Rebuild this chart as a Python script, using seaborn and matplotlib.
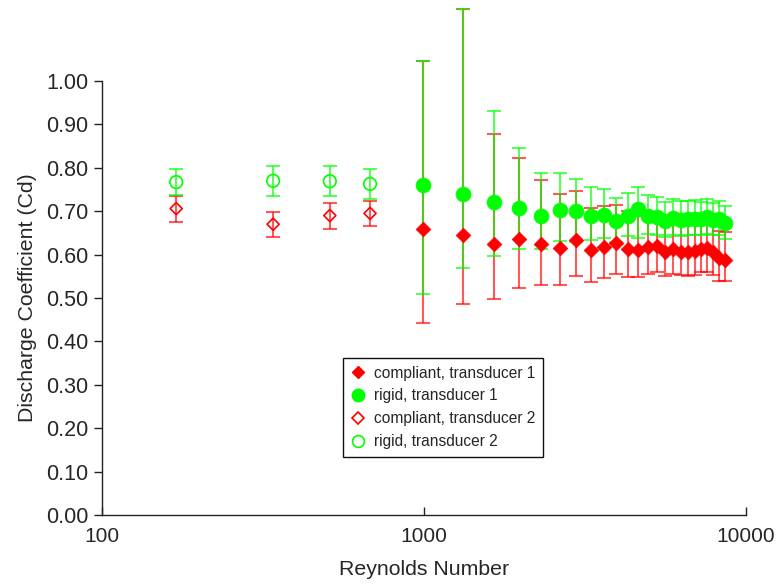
import matplotlib
matplotlib.use("Agg")
import matplotlib.pyplot as plt
from matplotlib.lines import Line2D
from matplotlib.ticker import FixedLocator, FixedFormatter, NullLocator, FormatStrFormatter
import numpy as np
import pandas as pd
import seaborn as sns

# Transducer 1 (filled markers)
re_t1 = [990, 1320, 1650, 1980, 2310, 2640, 2970, 3300, 3630, 3960, 4290, 4620,
         4950, 5280, 5610, 5940, 6270, 6600, 6930, 7260, 7590, 7920, 8250, 8580]

cd_compliant_t1 = [0.660, 0.645, 0.625, 0.637, 0.625, 0.616, 0.633, 0.610, 0.618, 0.627, 0.614, 0.610,
                   0.618, 0.620, 0.607, 0.614, 0.607, 0.605, 0.608, 0.613, 0.616, 0.605, 0.591, 0.588]
lo_compliant_t1 = [0.442, 0.485, 0.497, 0.524, 0.530, 0.530, 0.550, 0.536, 0.546, 0.556, 0.549, 0.549,
                   0.556, 0.559, 0.551, 0.556, 0.553, 0.551, 0.553, 0.559, 0.561, 0.553, 0.539, 0.539]
hi_compliant_t1 = [1.047, 1.165, 0.877, 0.823, 0.772, 0.739, 0.747, 0.708, 0.712, 0.715, 0.700, 0.689,
                   0.690, 0.690, 0.680, 0.685, 0.675, 0.675, 0.676, 0.680, 0.685, 0.670, 0.655, 0.652]

cd_rigid_t1 = [0.760, 0.740, 0.722, 0.708, 0.688, 0.702, 0.700, 0.690, 0.692, 0.678, 0.690, 0.705,
               0.690, 0.687, 0.677, 0.685, 0.680, 0.682, 0.683, 0.682, 0.686, 0.680, 0.682, 0.672]
lo_rigid_t1 = [0.510, 0.568, 0.597, 0.612, 0.612, 0.632, 0.630, 0.633, 0.639, 0.630, 0.643, 0.638,
               0.647, 0.645, 0.640, 0.645, 0.642, 0.645, 0.646, 0.646, 0.648, 0.645, 0.645, 0.636]
hi_rigid_t1 = [1.047, 1.165, 0.930, 0.845, 0.787, 0.789, 0.775, 0.755, 0.752, 0.731, 0.743, 0.756,
               0.738, 0.733, 0.722, 0.728, 0.724, 0.724, 0.726, 0.722, 0.728, 0.719, 0.724, 0.711]

# Transducer 2 (hollow markers)
re_t2 = [170, 340, 510, 680]
cd_compliant_t2 = [0.706, 0.670, 0.690, 0.695]
lo_compliant_t2 = [0.676, 0.641, 0.660, 0.666]
hi_compliant_t2 = [0.736, 0.699, 0.720, 0.724]
cd_rigid_t2 = [0.767, 0.770, 0.769, 0.763]
lo_rigid_t2 = [0.737, 0.735, 0.735, 0.728]
hi_rigid_t2 = [0.797, 0.805, 0.803, 0.798]

x_ticks = [100, 1000, 10000]
x_tick_labels = ["100", "1000", "10000"]
y_ticks = [0.0, 0.1, 0.2, 0.3, 0.4, 0.5, 0.6, 0.7, 0.8, 0.9, 1.0]

RED = "#ff0000"
GREEN = "#00ff00"

sns.set_style("ticks")
plt.rcParams["font.family"] = ["Liberation Sans", "DejaVu Sans"]

fig = plt.figure(figsize=(7.77, 5.84), dpi=100)
ax = fig.add_axes([0.1313, 0.1182, 0.8287, 0.7431])


def draw_bars(x, cd, lo, hi, color):
    cd = np.asarray(cd)
    yerr = [cd - np.asarray(lo), np.asarray(hi) - cd]
    ax.errorbar(x, cd, yerr=yerr, fmt="none", ecolor=color, elinewidth=1.5,
                capsize=5, capthick=1.5, alpha=0.65, clip_on=False, zorder=2)


# error bars first, markers on top
draw_bars(re_t2, cd_compliant_t2, lo_compliant_t2, hi_compliant_t2, RED)
draw_bars(re_t2, cd_rigid_t2, lo_rigid_t2, hi_rigid_t2, GREEN)
draw_bars(re_t1, cd_compliant_t1, lo_compliant_t1, hi_compliant_t1, RED)
draw_bars(re_t1, cd_rigid_t1, lo_rigid_t1, hi_rigid_t1, GREEN)

df_c1 = pd.DataFrame({"Re": re_t1, "Cd": cd_compliant_t1})
df_r1 = pd.DataFrame({"Re": re_t1, "Cd": cd_rigid_t1})
df_c2 = pd.DataFrame({"Re": re_t2, "Cd": cd_compliant_t2})
df_r2 = pd.DataFrame({"Re": re_t2, "Cd": cd_rigid_t2})

sns.scatterplot(data=df_c2, x="Re", y="Cd", ax=ax, marker="D", s=38,
                facecolor="none", edgecolor=RED, linewidth=1.2, zorder=3, legend=False)
sns.scatterplot(data=df_r2, x="Re", y="Cd", ax=ax, marker="o", s=82,
                facecolor="none", edgecolor=GREEN, linewidth=1.2, zorder=3, legend=False)
sns.scatterplot(data=df_c1, x="Re", y="Cd", ax=ax, marker="D", s=56,
                color=RED, edgecolor=RED, linewidth=0.5, zorder=4, legend=False)
sns.scatterplot(data=df_r1, x="Re", y="Cd", ax=ax, marker="o", s=115,
                color=GREEN, edgecolor=GREEN, linewidth=0.5, zorder=4, legend=False)

ax.set_xscale("log")
ax.set_xlim(100, 10000)
ax.set_ylim(0, 1.0)
ax.xaxis.set_major_locator(FixedLocator(x_ticks))
ax.xaxis.set_major_formatter(FixedFormatter(x_tick_labels))
ax.xaxis.set_minor_locator(NullLocator())
ax.yaxis.set_major_locator(FixedLocator(y_ticks))
ax.yaxis.set_major_formatter(FormatStrFormatter("%.2f"))

for side in ("top", "right"):
    ax.spines[side].set_visible(False)
for side in ("left", "bottom"):
    ax.spines[side].set_color("#222222")
    ax.spines[side].set_linewidth(1.0)

ax.tick_params(axis="y", direction="out", length=6, width=1.0, color="#222222",
               labelsize=15.5, pad=4)
ax.tick_params(axis="x", direction="in", length=6, width=1.0, color="#222222",
               labelsize=15, pad=9)

ax.set_xlabel("Reynolds Number", fontsize=15.3, labelpad=10)
ax.set_ylabel("Discharge Coefficient (Cd)", fontsize=15.3, labelpad=6)

handles = [
    Line2D([], [], linestyle="none", marker="D", markersize=6.2,
           markerfacecolor=RED, markeredgecolor=RED),
    Line2D([], [], linestyle="none", marker="o", markersize=9,
           markerfacecolor=GREEN, markeredgecolor=GREEN),
    Line2D([], [], linestyle="none", marker="D", markersize=6.0,
           markerfacecolor="none", markeredgecolor=RED, markeredgewidth=1.2),
    Line2D([], [], linestyle="none", marker="o", markersize=8.5,
           markerfacecolor="none", markeredgecolor=GREEN, markeredgewidth=1.2),
]
labels = ["compliant, transducer 1", "rigid, transducer 1",
          "compliant, transducer 2", "rigid, transducer 2"]
leg = ax.legend(handles, labels, loc="upper left", bbox_to_anchor=(0.374, 0.362),
                fontsize=11.2, frameon=True, fancybox=False, framealpha=1,
                edgecolor="#111111", handlelength=0.9, handletextpad=0.6,
                borderpad=0.5, labelspacing=0.5, borderaxespad=0)
leg.get_frame().set_linewidth(1.0)

fig.savefig("out.png", dpi=100)
